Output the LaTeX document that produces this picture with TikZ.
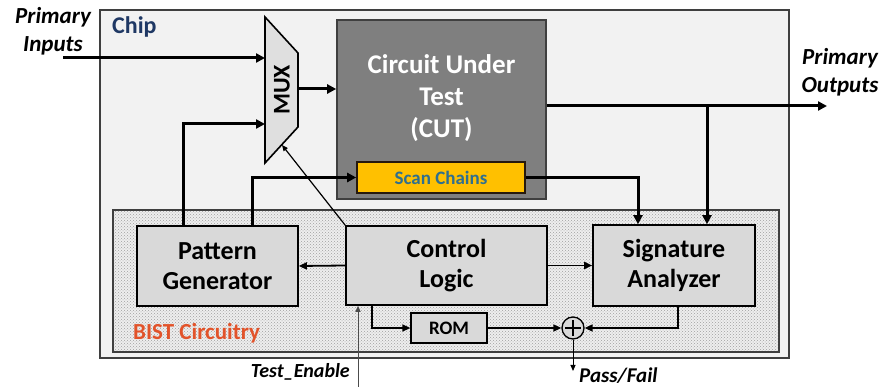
\documentclass[tikz,border=0pt]{standalone}
\usepackage{fontspec}
\setmainfont{Carlito}
\usetikzlibrary{arrows.meta,patterns}

\definecolor{chipbg}{HTML}{F2F2F2}
\definecolor{chipline}{HTML}{3F3F3F}
\definecolor{blkgray}{HTML}{D9D9D9}
\definecolor{cutgray}{HTML}{7F7F7F}
\definecolor{scanyel}{HTML}{FFC000}
\definecolor{scantext}{HTML}{2F6F8F}
\definecolor{chipblue}{HTML}{1F3864}
\definecolor{bistred}{HTML}{E2532A}
\definecolor{bistbg}{HTML}{EEEEEE}

\begin{document}
\begin{tikzpicture}[x=1pt,y=-1pt,
  blk/.style={draw=black, line width=1.6pt, fill=blkgray, inner sep=0pt, align=center,
    font=\fontsize{26}{30}\selectfont\bfseries},
  bus/.style={line width=3pt, -{Triangle[length=9pt,width=9pt]}},
  sig/.style={line width=1.8pt, -{Triangle[length=8pt,width=7pt]}},
  fine/.style={line width=1pt, -{Triangle[length=6pt,width=5pt]}},
  lbl/.style={inner sep=0pt, align=center, font=\fontsize{23}{28}\selectfont\bfseries\itshape}
]
\useasboundingbox (0,0) rectangle (884,387);

% chip outline and BIST area
\draw[chipline, line width=1.8pt, fill=chipbg] (100,10) rectangle (789,358);
\draw[chipline, line width=1.6pt, fill=bistbg] (113,210) rectangle (779,352);
\fill[pattern=crosshatch dots, pattern color=gray!75] (114,211) rectangle (778,351);
\node[anchor=west, inner sep=0pt, text=chipblue, font=\fontsize{24}{28}\selectfont\bfseries] (chiplbl) at (112,27) {Chip};
\node[anchor=west, inner sep=0pt, text=bistred, font=\fontsize{23}{28}\selectfont\bfseries] (bistlbl) at (133,333) {BIST Circuitry};

% multiplexer
\coordinate (muxA) at (265,17);
\coordinate (muxB) at (298,53);
\coordinate (muxC) at (298,127);
\coordinate (muxD) at (265,163);
\draw[line width=1.6pt, fill=blkgray!85!white] (muxA) -- (muxB) -- (muxC) -- (muxD) -- cycle;
\node[rotate=90, inner sep=0pt, font=\fontsize{24}{28}\selectfont\bfseries] (muxlbl) at (282,90) {MUX};
\coordinate (muxin1) at (265,58);
\coordinate (muxin2) at (265,124);
\coordinate (muxout) at (298,89);
\coordinate (muxsel) at (282,145);

% circuit under test
\node[blk, draw=chipline, fill=cutgray, minimum width=209pt, minimum height=179pt] (cut) at (441.5,109.5) {};
\node[inner sep=0pt, align=center, text=white, font=\fontsize{27}{32}\selectfont\bfseries] (cuttxt) at (441.5,98) {Circuit Under\\Test\\(CUT)};
\node[blk, draw=black!80!brown, fill=scanyel, text=scantext, minimum width=168pt, minimum height=31pt,
  font=\fontsize{19}{22}\selectfont\bfseries] (scan) at (441,177.5) {Scan Chains};

% BIST blocks
\node[blk, minimum width=161pt, minimum height=80pt] (pg) at (217.5,266) {Pattern\\Generator};
\node[blk, minimum width=201pt, minimum height=79pt] (ctrl) at (446.5,265.5) {Control\\Logic};
\node[blk, minimum width=162pt, minimum height=81pt] (sa) at (674,265.5) {Signature\\Analyzer};
\node[blk, line width=1.3pt, minimum width=76pt, minimum height=30pt,
  font=\fontsize{19}{22}\selectfont\bfseries] (rom) at (449,328) {ROM};
\node[draw=black, line width=1.3pt, fill=blkgray, circle, minimum size=22pt, inner sep=0pt,
  path picture={\draw[line width=1.6pt] ([xshift=-8pt]path picture bounding box.center) -- ([xshift=8pt]path picture bounding box.center)
    ([yshift=-8pt]path picture bounding box.center) -- ([yshift=8pt]path picture bounding box.center);}] (xor) at (573,328) {};

% external labels
\node[lbl] (pilbl) at (53,31) {Primary\\Inputs};
\node[lbl] (polbl) at (840,72) {Primary\\Outputs};
\node[anchor=east, inner sep=0pt, font=\fontsize{20}{24}\selectfont\bfseries\itshape] (telbl) at (350,372) {Test\_Enable};
\node[anchor=west, inner sep=0pt, font=\fontsize{21}{24}\selectfont\bfseries\itshape] (pflbl) at (579,376) {Pass/Fail};
\coordinate (pi) at (63,58);
\coordinate (po) at (827,106);
\coordinate (te) at (358,387);
\coordinate (pf) at (573,371);

% data paths
\draw[bus] (pi) -- (muxin1);
\draw[bus] (muxout) -- (muxout -| cut.west);
\draw[bus] ([xshift=-34.5pt]pg.north) |- (muxin2);
\draw[bus] ([xshift=34.5pt]pg.north) |- (scan.west);
\coordinate (saIn1) at ([xshift=-36pt]sa.north);
\coordinate (saIn2) at ([xshift=33pt]sa.north);
\draw[bus] (scan.east) -| (saIn1);
\draw[bus] ([yshift=3.5pt]cut.east) -- (po);
\draw[bus] (saIn2 |- po) -- (saIn2);

% control paths
\draw[sig] (ctrl.west) -- (pg.east);
\draw[sig] (ctrl.east) -- (sa.west);
\draw[fine, line width=1.2pt] (ctrl.north west) -- (muxsel);
\draw[fine, draw=black!70] (te) -- (te |- ctrl.south);
\draw[sig, line width=1.5pt] ([xshift=-74.5pt]ctrl.south) |- (rom.west);
\draw[sig, line width=1.5pt] (rom.east) -- (xor.west);
\draw[sig, line width=1.5pt] ([xshift=4pt]sa.south) |- (xor.east);
\draw[fine] (xor.south) -- (pf);
\end{tikzpicture}
\end{document}
